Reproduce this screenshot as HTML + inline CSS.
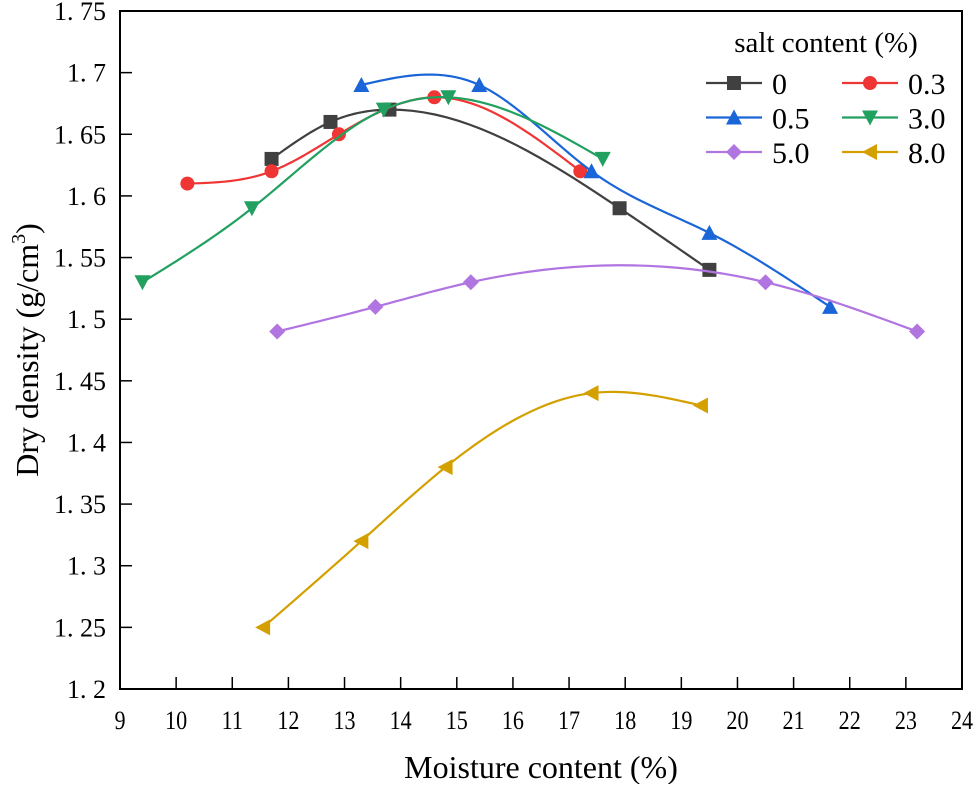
<!DOCTYPE html>
<html><head><meta charset="utf-8"><style>
body{margin:0;background:#fff}
svg text{font-family:"Liberation Serif","Noto Serif CJK SC",serif;fill:#000}
</style></head><body>
<svg id="chart" width="977" height="784" xmlns="http://www.w3.org/2000/svg">
<g id="axes"></g>
<g id="series"></g>
<g id="legend"></g>
<text x="541" y="778" font-size="32" text-anchor="middle">Moisture content (%)</text>
<text transform="translate(38,350) rotate(-90)" font-size="32" text-anchor="middle">Dry density (g/cm<tspan dy="-13" font-size="20">3</tspan><tspan dy="13">)</tspan></text>
</svg>
<script>
const seriesNames=["0","0.3","0.5","3.0","5.0","8.0"];
const x0=[11.7,12.75,13.8,17.9,19.5], y0=[1.63,1.66,1.67,1.59,1.54];
const x03=[10.2,11.7,12.9,14.6,17.2], y03=[1.61,1.62,1.65,1.68,1.62];
const x05=[13.3,15.4,17.4,19.5,21.65], y05=[1.69,1.69,1.62,1.57,1.51];
const x30=[9.4,11.35,13.7,14.85,17.6], y30=[1.53,1.59,1.67,1.68,1.63];
const x50=[11.8,13.55,15.25,20.5,23.2], y50=[1.49,1.51,1.53,1.53,1.49];
const x80=[11.55,13.3,14.8,17.4,19.35], y80=[1.25,1.32,1.38,1.44,1.43];
const xTicks=[9,10,11,12,13,14,15,16,17,18,19,20,21,22,23,24];
const yTicks=[1.2,1.25,1.3,1.35,1.4,1.45,1.5,1.55,1.6,1.65,1.7,1.75];
const yTickLabels=["1. 2","1. 25","1. 3","1. 35","1. 4","1. 45","1. 5","1. 55","1. 6","1. 65","1. 7","1. 75"];

const L=120,R=962,T=11,B=689,XMIN=9,XMAX=24,YMIN=1.2,YMAX=1.75;
const sx=v=>L+(v-XMIN)/(XMAX-XMIN)*(R-L);
const sy=v=>B-(v-YMIN)/(YMAX-YMIN)*(B-T);
const NS="http://www.w3.org/2000/svg";
function mk(tag,attrs,parent){const e=document.createElementNS(NS,tag);for(const k in attrs)e.setAttribute(k,attrs[k]);parent.appendChild(e);return e;}
const axes=document.getElementById('axes');
let r=mk('rect',{x:L,y:T,width:R-L,height:B-T,fill:'none',stroke:'#000','stroke-width':2},axes);


xTicks.forEach(v=>{
  let l=mk('line',{x1:sx(v),x2:sx(v),y1:B,y2:B-12,stroke:'#000','stroke-width':1.5},axes);
  
  
  let t=mk('text',{x:sx(v),y:B+40,'font-size':26,'text-anchor':'middle',transform:`translate(${sx(v)},0) scale(0.85,1) translate(${-sx(v)},0)`},axes);t.textContent=v;
  
  
});
yTicks.forEach((v,i)=>{
  let l=mk('line',{x1:L,x2:L+12,y1:sy(v),y2:sy(v),stroke:'#000','stroke-width':1.5},axes);
  
  
  let t=mk('text',{x:106,y:sy(v)+9,'font-size':26,'text-anchor':'end'},axes);t.textContent=yTickLabels[i];
  
  
});
function natSpline(X,Y){
  const n=X.length,h=[],a=[],l=[1],mu=[0],z=[0],c=new Array(n).fill(0),b=[],d=[];
  for(let i=0;i<n-1;i++)h[i]=X[i+1]-X[i];
  for(let i=1;i<n-1;i++)a[i]=3/h[i]*(Y[i+1]-Y[i])-3/h[i-1]*(Y[i]-Y[i-1]);
  for(let i=1;i<n-1;i++){l[i]=2*(X[i+1]-X[i-1])-h[i-1]*mu[i-1];mu[i]=h[i]/l[i];z[i]=(a[i]-h[i-1]*z[i-1])/l[i];}
  for(let j=n-2;j>=0;j--){c[j]=(j<n-1&&j>0)?z[j]-mu[j]*c[j+1]:(j===0?0:c[j]);if(j===0)c[0]=0;
    b[j]=(Y[j+1]-Y[j])/h[j]-h[j]*(c[j+1]+2*c[j])/3;d[j]=(c[j+1]-c[j])/(3*h[j]);}
  let s='';
  for(let i=0;i<n-1;i++){for(let k=0;k<=20;k++){const t=h[i]*k/20;const y=Y[i]+b[i]*t+c[i]*t*t+d[i]*t*t*t;
    s+=(s?' L':'M')+sx(X[i]+t).toFixed(2)+','+sy(y).toFixed(2);}}
  return s;
}
function marker(type,x,y,color,parent){
  const s=7;let e;
  if(type==='square')e=mk('rect',{x:x-s,y:y-s,width:2*s,height:2*s,fill:color},parent);
  else if(type==='circle')e=mk('circle',{cx:x,cy:y,r:s,fill:color},parent);
  else if(type==='up')e=mk('polygon',{points:`${x},${y-s-1} ${x-s-1},${y+s} ${x+s+1},${y+s}`,fill:color},parent);
  else if(type==='down')e=mk('polygon',{points:`${x},${y+s+1} ${x-s-1},${y-s} ${x+s+1},${y-s}`,fill:color},parent);
  else if(type==='diamond')e=mk('polygon',{points:`${x},${y-s-1} ${x+s+1},${y} ${x},${y+s+1} ${x-s-1},${y}`,fill:color},parent);
  else e=mk('polygon',{points:`${x-s-1},${y} ${x+s},${y-s-1} ${x+s},${y+s+1}`,fill:color},parent);
  return e;
}
const xs=[x0,x03,x05,x30,x50,x80],ys=[y0,y03,y05,y30,y50,y80];
const colors=["#404040","#f03535","#1a66d9","#22a060","#b075e0","#d4a000"];
const marks=["square","circle","up","down","diamond","left"];
const sg=document.getElementById('series');
xs.forEach((X,k)=>{
  const g=mk('g',{},sg);
  
  
  const p=mk('path',{d:natSpline(X,ys[k]),fill:'none',stroke:colors[k],'stroke-width':2.2},g);
  
  
  X.forEach((v,i)=>{const m=marker(marks[k],sx(v),sy(ys[k][i]),colors[k],g);
    
    });
});
const lg=document.getElementById('legend');
let tt=mk('text',{x:826,y:52,'font-size':29,'text-anchor':'middle'},lg);tt.textContent='salt content (%)';


seriesNames.forEach((n,k)=>{
  const col=k%2,row=Math.floor(k/2);
  const lx=col?842:706,ly=83+row*34.5;
  const g=mk('g',{},lg);
  
  
  mk('line',{x1:lx,x2:lx+56,y1:ly,y2:ly,stroke:colors[k],'stroke-width':2.2},g);
  marker(marks[k],lx+28,ly,colors[k],g);
  const t=mk('text',{x:lx+66,y:ly+11,'font-size':30},g);t.textContent=n;
});
</script>
</body></html>
